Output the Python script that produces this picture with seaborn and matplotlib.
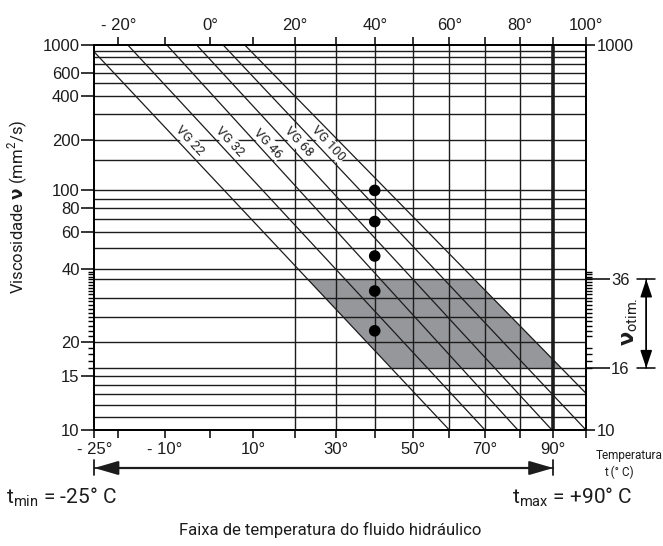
import numpy as np
import pandas as pd
import seaborn as sns
import matplotlib.pyplot as plt

# viscosity lines: where each one enters and leaves the grid (°C, mm²/s)
grades = ["limite", "VG 22", "VG 32", "VG 46", "VG 68", "VG 100"]
t_start = [-25, -18, -9.6, -3, 3, 8]
v_start = [875, 1000, 1000, 1000, 1000, 1000]
t_end = [60, 70, 79.5, 89.6, 100, 100]
v_end = [10, 10, 10, 10, 10, 13.1]

# nominal viscosity of each grade at 40 °C
dot_temp = [40, 40, 40, 40, 40]
dot_visc = [100, 68, 46, 32, 22]

# optimum operating band (grey)
band_temp = [23, 67, 92.5, 44.4]
band_visc = [36, 36, 16, 16]
v_opt = [16, 36]

grid_visc = [900, 800, 700, 600, 500, 400, 300, 200, 150, 100, 90, 80, 70, 60,
             50, 40, 36, 30, 25, 20, 16, 15, 14, 13, 12, 11]
grid_temp = [20, 30, 40, 50, 60, 70, 80]
t_limits = [-25, 90]

bottom_ticks = [-25, -10, 10, 30, 50, 70, 90]
bottom_labels = ["- 25°", "- 10°", "10°", "30°", "50°", "70°", "90°"]
top_ticks = [-20, 0, 20, 40, 60, 80, 100]
top_labels = ["- 20°", "0°", "20°", "40°", "60°", "80°", "100°"]
left_ticks = [10, 15, 20, 40, 60, 80, 100, 200, 400, 600, 1000]
small_ticks = [v for v in range(16, 40) if v != 20]
right_ticks = [10, 1000]


# Walther type chart: log(T abs) against log log (v + 0.7)
def t_fwd(t):
    return np.log10(np.asarray(t, float) + 273.15)


def t_inv(u):
    return 10 ** np.asarray(u, float) - 273.15


def v_fwd(v):
    with np.errstate(all="ignore"):
        return np.log10(np.log10(np.asarray(v, float) + 0.7))


def v_inv(w):
    with np.errstate(all="ignore"):
        return 10 ** (10 ** np.asarray(w, float)) - 0.7


sns.set_theme(style="white")
num_font = ["Liberation Sans", "DejaVu Sans"]
narrow = ["Liberation Sans Narrow", "Roboto", "DejaVu Sans"]
plt.rcParams["font.family"] = num_font
plt.rcParams["mathtext.fontset"] = "dejavusans"

fig = plt.figure(figsize=(6.63, 5.46), dpi=100)
ax = fig.add_axes([94.3 / 663, 116 / 546, 491.7 / 663, 385 / 546])
ax.set_xscale("function", functions=(t_fwd, t_inv))
ax.set_yscale("function", functions=(v_fwd, v_inv))
ax.set_xlim(-25, 100)
ax.set_ylim(10, 1000)

# twins: top temperature labels, right viscosity labels
ax_top = ax.twiny()
ax_top.set_xscale("function", functions=(t_fwd, t_inv))
ax_top.set_xlim(-25, 100)
ax_r = ax.twinx()
ax_r.set_yscale("function", functions=(v_fwd, v_inv))
ax_r.set_ylim(10, 1000)
for a in (ax, ax_top, ax_r):
    for s in a.spines.values():
        s.set_color("black")
        s.set_linewidth(1.1)

ink = "#1c1c1c"

ax.fill(band_temp, band_visc, color="#96979a", lw=0, zorder=1)
for v in grid_visc:
    ax.axhline(v, color=ink, lw=1.0, zorder=2)
for t in grid_temp:
    ax.axvline(t, color=ink, lw=1.0, zorder=2)
ax.axvline(t_limits[1], color=ink, lw=2.6, zorder=2)

lines = pd.DataFrame({"grade": grades * 2,
                      "temp": t_start + t_end,
                      "visc": v_start + v_end})
sns.lineplot(data=lines, x="temp", y="visc", units="grade", estimator=None,
             sort=False, color=ink, lw=0.9, legend=False, ax=ax, zorder=3)
sns.scatterplot(x=dot_temp, y=dot_visc, color="black", s=70, edgecolor="none",
                zorder=6, ax=ax)

label_pos = [(-4.6, 200), (4.6, 196), (13.5, 191), (20.8, 196), (28.2, 191)]
for name, (t, v) in zip(grades[1:], label_pos):
    ax.text(t, v, name, rotation=-47, ha="center", va="center", fontsize=9.5,
            family=narrow, zorder=2.5,
            bbox=dict(fc="white", ec="none", pad=0.4))
ax.set_xlabel("")
ax.set_ylabel("")

# bottom axis
ax.set_xticks(bottom_ticks, bottom_labels)
ax.set_xticks(top_ticks, minor=True)
ax.set_xticklabels([], minor=True)
ax.set_yticks(left_ticks, [str(v) for v in left_ticks])
ax.set_yticks(small_ticks, minor=True)
ax.set_yticklabels([], minor=True)
ax.tick_params(axis="x", which="both", direction="out", length=6, width=1.1,
               labelsize=12, pad=3, color="black", labelcolor=ink)
ax.tick_params(axis="y", which="major", direction="out", length=9.5, width=1.1,
               labelsize=12, pad=1, color="black", labelcolor=ink)
ax.tick_params(axis="y", which="minor", direction="out", length=4.5, width=1.0,
               left=True, right=True, color="black")

# top axis
ax_top.set_xticks(top_ticks, top_labels)
ax_top.set_xticks([-10, 10, 30, 50, 70, 90], minor=True)
ax_top.set_xticklabels([], minor=True)
ax_top.tick_params(axis="x", which="both", direction="out", length=6, width=1.1,
                   labelsize=12, pad=3, color="black", labelcolor=ink)

# right axis
ax_r.set_yticks(right_ticks, [str(v) for v in right_ticks])
ax_r.set_yticks(v_opt, [str(v) for v in v_opt], minor=True)
ax_r.tick_params(axis="y", which="major", direction="out", length=6.5, width=1.1,
                 labelsize=12, pad=1, color="black", labelcolor=ink)
ax_r.tick_params(axis="y", which="minor", direction="out", length=17, width=1.1,
                 labelsize=12, pad=1, color="black", labelcolor=ink)

# optimum viscosity arrow
ytr = ax.get_yaxis_transform()
for v in v_opt:
    ax.plot([1.104, 1.141], [v, v], color="black", lw=1.1, transform=ytr,
            clip_on=False)
for a, b in [(0, 1), (1, 0)]:
    ax.annotate("", xy=(1.1225, v_opt[a]), xytext=(1.1225, v_opt[b]),
                xycoords=ytr,
                arrowprops=dict(arrowstyle="-|>,head_length=0.9,head_width=0.3",
                                color="black", lw=1.1, shrinkA=0, shrinkB=0),
                annotation_clip=False)
fig.text(630 / 663, 1 - 322 / 546, r"$\mathbf{\nu}$$_\mathregular{otim.}$",
         rotation=90, ha="center", va="center", fontsize=15, family=narrow,
         color=ink)

# temperature range arrow
xtr = ax.get_xaxis_transform()
ay = -0.0987
ax.annotate("", xy=(t_limits[1], ay), xytext=(t_limits[0], ay), xycoords=xtr,
            arrowprops=dict(arrowstyle="<|-|>,head_length=1.2,head_width=0.35",
                            color=ink, lw=1.6, shrinkA=0, shrinkB=0),
            annotation_clip=False)
ax.annotate("", xy=(t_limits[1], ay), xytext=(t_limits[0], ay), xycoords=xtr,
            arrowprops=dict(arrowstyle="|-|,widthA=0.45,widthB=0.45",
                            color=ink, lw=1.3, shrinkA=0, shrinkB=0),
            annotation_clip=False)

fig.text(18 / 663, 1 - 207 / 546,
         "Viscosidade $\\mathbf{\\nu}$ (mm$^\\mathregular{2}$/s)",
         rotation=90, ha="center", va="center", fontsize=12, family=narrow,
         color=ink)
fig.text(596 / 663, 1 - 455 / 546, "Temperatura", ha="left", va="center",
         fontsize=8.5, family=narrow, color=ink)
fig.text(604 / 663, 1 - 472 / 546, "t (° C)", ha="left", va="center",
         fontsize=8.5, family=narrow, color=ink)
fig.text(6 / 663, 1 - 497 / 546, "t$_\\mathregular{min}$ = -25° C", ha="left",
         va="center", fontsize=15, family=narrow, color=ink)
fig.text(512 / 663, 1 - 497 / 546, "t$_\\mathregular{max}$ = +90° C", ha="left",
         va="center", fontsize=15, family=narrow, color=ink)
fig.text(330 / 663, 1 - 530 / 546, "Faixa de temperatura do fluido hidráulico",
         ha="center", va="center", fontsize=12, family=narrow, color=ink)

fig.savefig("out.png", dpi=100)
